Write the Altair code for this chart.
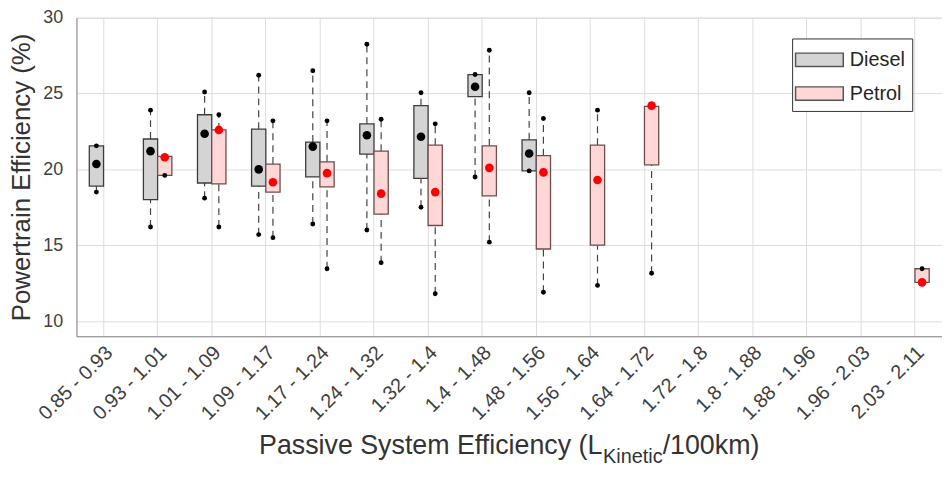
import altair as alt
import pandas as pd

categories = ["0.85 - 0.93", "0.93 - 1.01", "1.01 - 1.09", "1.09 - 1.17",
              "1.17 - 1.24", "1.24 - 1.32", "1.32 - 1.4", "1.4 - 1.48",
              "1.48 - 1.56", "1.56 - 1.64", "1.64 - 1.72", "1.72 - 1.8",
              "1.8 - 1.88", "1.88 - 1.96", "1.96 - 2.03", "2.03 - 2.11"]
fuels = ["Diesel", "Petrol"]

diesel_cats = categories[0:9]
diesel_lo   = [18.5, 16.2, 18.1, 15.7, 16.4, 16.0, 17.5, 19.5, 19.9]
diesel_q1   = [18.9, 18.0, 19.1, 18.9, 19.5, 21.0, 19.4, 24.8, 19.9]
diesel_q3   = [21.55, 22.0, 23.6, 22.65, 21.8, 23.0, 24.2, 26.25, 21.95]
diesel_hi   = [21.55, 23.9, 25.1, 26.2, 26.5, 28.25, 25.05, 26.25, 25.05]
diesel_mean = [20.35, 21.2, 22.35, 20.0, 21.5, 22.25, 22.15, 25.45, 21.05]

petrol_cats = categories[1:11] + [categories[15]]
petrol_lo   = [19.6, 16.2, 15.5, 13.45, 13.85, 11.8, 15.2, 11.9, 12.35, 13.15, 12.55]
petrol_q1   = [19.6, 19.05, 18.5, 18.85, 17.05, 16.3, 18.25, 14.75, 15.0, 20.3, 12.55]
petrol_q3   = [20.85, 22.6, 20.35, 20.5, 21.2, 21.6, 21.55, 20.9, 21.6, 24.15, 13.45]
petrol_hi   = [20.85, 23.6, 23.2, 23.2, 23.3, 23.0, 27.85, 23.35, 23.9, 24.15, 13.45]
petrol_mean = [20.8, 22.6, 19.15, 19.75, 18.4, 18.5, 20.1, 19.8, 19.3, 24.2, 12.55]

rows = []
for fuel, cats, lo, q1, q3, hi, mean in [
    ("Diesel", diesel_cats, diesel_lo, diesel_q1, diesel_q3, diesel_hi, diesel_mean),
    ("Petrol", petrol_cats, petrol_lo, petrol_q1, petrol_q3, petrol_hi, petrol_mean),
]:
    for i, c in enumerate(cats):
        rows.append({"cat": c, "fuel": fuel, "lo": lo[i], "q1": q1[i],
                     "q3": q3[i], "hi": hi[i], "mean": mean[i]})
df = pd.DataFrame(rows)

FONT = "Liberation Sans"
W, H = 872, 321
YTITLE = "Powertrain Efficiency (%)"

xenc = alt.X("cat:N", title=None,
             scale=alt.Scale(domain=categories, paddingInner=0, paddingOuter=0),
             axis=alt.Axis(labelAngle=315, labelAlign="right", labelBaseline="middle",
                           labelPadding=13, labelOffset=6, ticks=False, grid=True,
                           labelFontSize=20, labelColor="#404040", labelOverlap=False))
xoff = alt.XOffset("fuel:N",
                   scale=alt.Scale(domain=fuels, paddingInner=0, paddingOuter=0.9))
yscale = alt.Scale(domain=[9, 30], nice=False, zero=False)
yaxis = alt.Axis(values=[10, 15, 20, 25, 30], ticks=False, grid=True,
                 labelFontSize=18, labelColor="#404040", labelPadding=14,
                 titleFontSize=26, titleColor="#333333", titleFontWeight="normal",
                 titlePadding=8)


def Y(field):
    return alt.Y(field, scale=yscale, axis=yaxis, title=YTITLE)


NBSP = "\u00a0" * 5

base = alt.Chart(df)
whisk_lo = base.mark_rule(strokeDash=[7, 5], color="#444444", strokeWidth=1.2).encode(
    x=xenc, xOffset=xoff, y=Y("lo:Q"), y2="q1:Q")
whisk_hi = base.mark_rule(strokeDash=[7, 5], color="#444444", strokeWidth=1.2).encode(
    x=xenc, xOffset=xoff, y=Y("q3:Q"), y2="hi:Q")
box = base.mark_bar(strokeWidth=1.3, opacity=1).encode(
    x=xenc, xOffset=xoff, y=Y("q1:Q"), y2="q3:Q",
    color=alt.Color("fuel:N",
                    scale=alt.Scale(domain=fuels, range=["#d4d4d4", "#ffd7d7"]),
                    legend=alt.Legend(title=None, orient="none", legendX=721, legendY=21,
                                      symbolType="M-1.78,-0.5H1.78V0.5H-1.78Z",
                                      symbolSize=729, symbolOffset=6,
                                      symbolStrokeColor="#555555",
                                      symbolStrokeWidth=1.5, symbolOpacity=1,
                                      labelFontSize=20, labelFont=FONT,
                                      labelColor="#262626", labelOffset=16,
                                      rowPadding=9, padding=7,
                                      strokeColor="#333333", fillColor="white",
                                      labelExpr="datum.label + '" + NBSP + "'")),
    stroke=alt.condition(alt.datum.fuel == "Diesel", alt.value("#3c3c3c"), alt.value("#6e4d4d")))
dot_lo = base.mark_circle(size=24, color="black", opacity=1).encode(
    x=xenc, xOffset=xoff, y=Y("lo:Q"))
dot_hi = base.mark_circle(size=24, color="black", opacity=1).encode(
    x=xenc, xOffset=xoff, y=Y("hi:Q"))
means = base.mark_circle(size=75, opacity=1).encode(
    x=xenc, xOffset=xoff, y=Y("mean:Q"),
    fill=alt.condition(alt.datum.fuel == "Diesel", alt.value("black"), alt.value("#ff0000")))

# x title with subscript
ARIAL = {"P": 667, "a": 556, "s": 500, "i": 222, "v": 500, "e": 556, " ": 278,
         "S": 667, "y": 500, "t": 278, "m": 833, "E": 667, "f": 278, "c": 500,
         "n": 556, "(": 333, "L": 556, "K": 667, "/": 278, "1": 556, "0": 556,
         "k": 500, ")": 333}
t_main, t_sub, t_rest = "Passive System Efficiency (L", "Kinetic", "/100km)"
f_main, f_sub = 27, 20


def tw(s, f):
    return sum(ARIAL.get(ch, 556) for ch in s) * f / 1000.0


mw, sw, rw = tw(t_main, f_main), tw(t_sub, f_sub), tw(t_rest, f_main)
x0 = W / 2 - (mw + sw + rw) / 2
yb = 440
tdf = pd.DataFrame({"k": [0]})
ttl_main = alt.Chart(tdf).mark_text(align="left", baseline="alphabetic", font=FONT,
                                    fontSize=f_main, color="#333333").encode(
    x=alt.value(x0), y=alt.value(yb), text=alt.value(t_main))
ttl_sub = alt.Chart(tdf).mark_text(align="left", baseline="alphabetic", font=FONT,
                                   fontSize=f_sub, color="#333333").encode(
    x=alt.value(x0 + mw), y=alt.value(yb + 9), text=alt.value(t_sub))
ttl_rest = alt.Chart(tdf).mark_text(align="left", baseline="alphabetic", font=FONT,
                                    fontSize=f_main, color="#333333").encode(
    x=alt.value(x0 + mw + sw), y=alt.value(yb), text=alt.value(t_rest))

chart = alt.layer(whisk_lo, whisk_hi, box, dot_lo, dot_hi, means,
                  ttl_main, ttl_sub, ttl_rest).properties(
    width=W, height=H,
    padding={"left": 69, "top": 8, "right": 0, "bottom": 129},
    autosize=alt.AutoSizeParams(type="none"),
).configure_view(stroke=None).configure_axis(
    labelFont=FONT, titleFont=FONT, gridColor="#e6e6e6", gridWidth=1,
    domainColor="#707070", domainWidth=1.2,
).configure(background="white")

chart.save("out.html", embed_options={"renderer": "svg", "actions": False})
